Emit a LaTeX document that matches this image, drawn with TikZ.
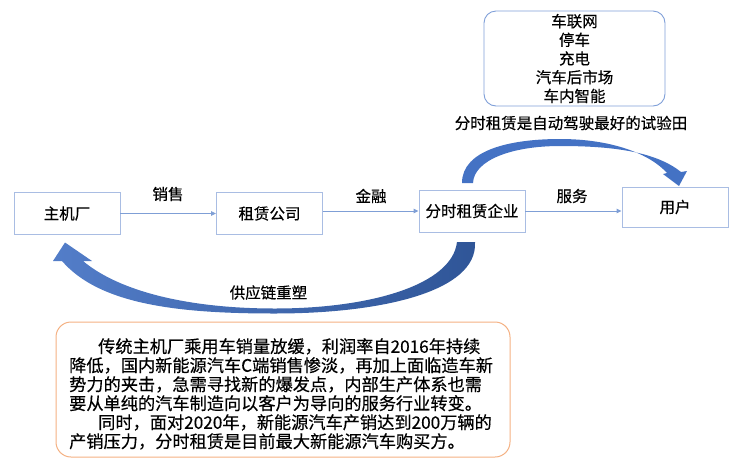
\documentclass[tikz,border=0pt]{standalone}
\usepackage{fontspec}
\setmainfont{Noto Sans CJK SC}[FakeBold=0.4]
\usetikzlibrary{arrows.meta}
\definecolor{boxline}{HTML}{A9BDE3}
\definecolor{connc}{HTML}{7F9FD6}
\definecolor{arrowblue}{HTML}{4472C4}
\definecolor{darkblue}{HTML}{2F5597}
\definecolor{topline}{HTML}{7F9FD8}
\definecolor{orangeline}{HTML}{F4B183}
\begin{document}
\begin{tikzpicture}[x=1pt,y=-1pt,
  flowbox/.style={draw=boxline, line width=0.9pt, minimum width=106pt, minimum height=42pt, inner sep=0pt, font=\fontsize{15.5}{18}\selectfont},
  lbl/.style={font=\fontsize{15.5}{18}\selectfont, inner sep=0pt},
  connline/.style={draw=connc, line width=0.9pt, -{Triangle[length=5pt,width=4.5pt]}}]
\useasboundingbox (0,0) rectangle (740,467);

% flow boxes
\node[flowbox] (zj) at (67,213.5) {主机厂};
\node[flowbox] (zl) at (269.5,213.5) {租赁公司};
\node[flowbox] (fs) at (472,211) {分时租赁企业};
\node[flowbox, minimum height=40pt] (yh) at (675,207) {用户};

% connectors
\draw[connline] (zj.east) -- (zj.east -| zl.west);
\draw[connline] (zl.east |- fs.west) -- (fs.west);
\draw[connline] (fs.east) -- (fs.east -| yh.west);

% connector labels
\node[lbl] (l1) at (168,194) {销售};
\node[lbl] (l2) at (371,196) {金融};
\node[lbl] (l3) at (572,196) {服务};

% top box
\node[draw=topline, line width=0.9pt, rounded corners=12pt, minimum width=181pt, minimum height=95pt, align=center, inner sep=0pt, font=\fontsize{15.5}{18.7}\selectfont] (tb) at (574.5,58.5) {车联网\\停车\\充电\\汽车后市场\\车内智能};
\node[lbl] (cap) at (571,123) {分时租赁是自动驾驶最好的试验田};

% top curved arrow
\fill[arrowblue] (462,183) .. controls (462,150) and (510,139) .. (560,139)
  .. controls (612,139) and (650,154) .. (667,173) -- (663,174) -- (679,186) -- (687,171) -- (681,172)
  .. controls (655,151) and (610,146) .. (560,146)
  .. controls (512,146) and (474,160) .. (473,183) -- cycle;

% bottom curved arrow
\shade[left color=arrowblue!92!white, right color=darkblue]
  (475,242) .. controls (478,292) and (380,313.5) .. (275,313.5)
  .. controls (180,313.5) and (100,305) .. (62,261) -- (53,261) -- (65,242.5) -- (92,261) -- (83,261)
  .. controls (120,292) and (190,308.5) .. (275,308.5)
  .. controls (370,308.5) and (452,285) .. (457,242) -- cycle;
\node[lbl] (l4) at (268.5,292.5) {供应链重塑};

% bottom text box
\node[draw=orangeline, line width=1pt, rounded corners=15pt, minimum width=454pt, minimum height=135pt] (bb) at (283,389.5) {};
\node[anchor=north west, align=left, inner sep=0pt, font=\fontsize{17.2}{19}\selectfont] (bt) at (69,338) {%
\hspace*{29pt}传统主机厂乘用车销量放缓，利润率自2016年持续\\
降低，国内新能源汽车C端销售惨淡，再加上面临造车新\\
势力的夹击，急需寻找新的爆发点，内部生产体系也需\\
要从单纯的汽车制造向以客户为导向的服务行业转变。\\
\hspace*{29pt}同时，面对2020年，新能源汽车产销达到200万辆的\\
产销压力，分时租赁是目前最大新能源汽车购买方。};
\end{tikzpicture}
\end{document}
